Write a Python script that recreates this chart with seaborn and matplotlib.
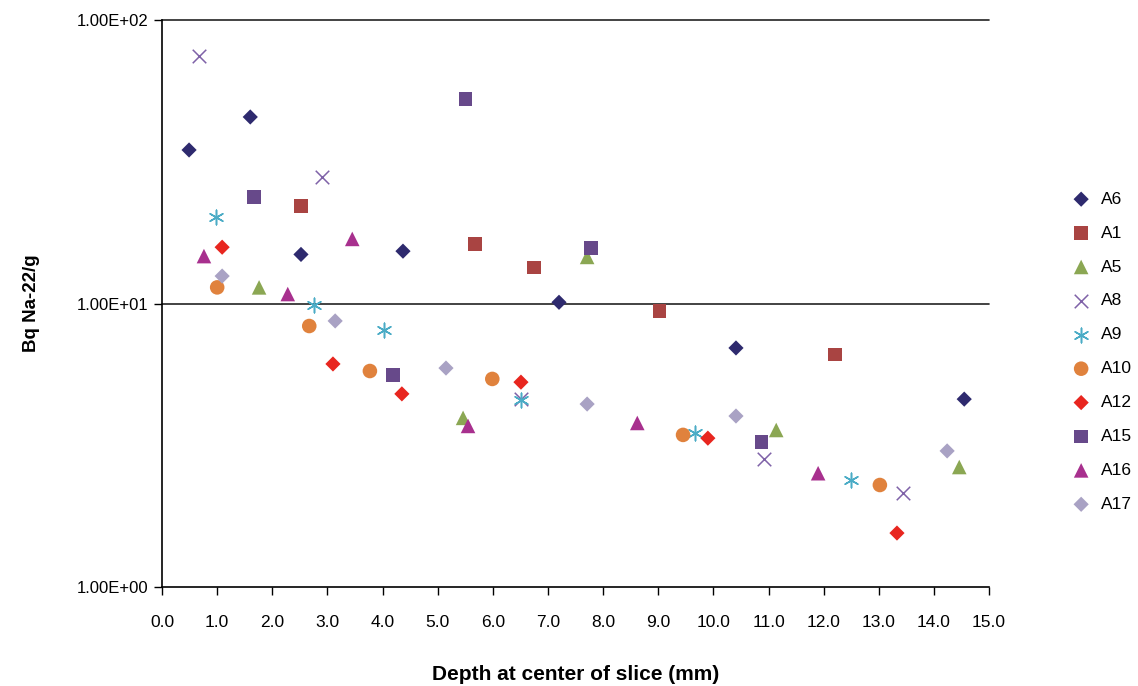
import matplotlib
matplotlib.use("Agg")
import matplotlib.pyplot as plt
from matplotlib import font_manager
import seaborn as sns
import pandas as pd

# Na-22 activity by depth for each sample core
series_names = ["A6", "A1", "A5", "A8", "A9", "A10", "A12", "A15", "A16", "A17"]

a6_depth = [0.49, 1.60, 2.52, 4.37, 7.20, 10.41, 14.55]
a6_bq = [34.8, 45.5, 14.9, 15.3, 10.1, 6.97, 4.6]

a1_depth = [2.52, 5.68, 6.75, 9.02, 12.21]
a1_bq = [22.1, 16.2, 13.4, 9.4, 6.6]

a5_depth = [1.76, 5.46, 7.71, 11.14, 14.46]
a5_bq = [11.4, 3.95, 14.6, 3.58, 2.65]

a8_depth = [0.67, 2.90, 6.51, 10.92, 13.44]
a8_bq = [74.6, 27.9, 4.6, 2.83, 2.15]

a9_depth = [0.98, 2.76, 4.03, 6.51, 9.67, 12.50]
a9_bq = [20.2, 9.9, 8.07, 4.57, 3.49, 2.39]

a10_depth = [1.00, 2.67, 3.77, 5.99, 9.45, 13.02]
a10_bq = [11.4, 8.33, 5.78, 5.42, 3.44, 2.29]

a12_depth = [1.09, 3.10, 4.35, 6.51, 9.90, 13.33]
a12_bq = [15.8, 6.12, 4.8, 5.28, 3.35, 1.55]

a15_depth = [1.67, 4.19, 5.50, 7.78, 10.87]
a15_bq = [23.8, 5.6, 52.6, 15.7, 3.25]

a16_depth = [0.76, 2.28, 3.45, 5.55, 8.62, 11.90]
a16_bq = [14.7, 10.8, 16.9, 3.70, 3.79, 2.52]

a17_depth = [1.09, 3.14, 5.15, 7.71, 10.41, 14.24]
a17_bq = [12.5, 8.68, 5.92, 4.42, 4.01, 3.02]

x_ticks = [float(v) for v in range(0, 16)]
y_ticks = [1.0, 10.0, 100.0]
y_tick_labels = ["1.00E+00", "1.00E+01", "1.00E+02"]

depths = [a6_depth, a1_depth, a5_depth, a8_depth, a9_depth,
          a10_depth, a12_depth, a15_depth, a16_depth, a17_depth]
values = [a6_bq, a1_bq, a5_bq, a8_bq, a9_bq,
          a10_bq, a12_bq, a15_bq, a16_bq, a17_bq]

colors = {
    "A6": "#2E2A6E", "A1": "#A94442", "A5": "#8BA753", "A8": "#7F62A8",
    "A9": "#4BACC6", "A10": "#E0823D", "A12": "#E8261F", "A15": "#67498A",
    "A16": "#A8308E", "A17": "#A9A2C4",
}
# six-armed asterisk for A9
markers = {
    "A6": "D", "A1": "s", "A5": "^", "A8": "x", "A9": (6, 2, 0),
    "A10": "o", "A12": "D", "A15": "s", "A16": "^", "A17": "D",
}
sizes = {
    "A6": 60, "A1": 95, "A5": 110, "A8": 95, "A9": 110,
    "A10": 110, "A12": 60, "A15": 95, "A16": 110, "A17": 60,
}

sns.set_theme(style="white")
installed = {f.name for f in font_manager.fontManager.ttflist}
base_font = "Liberation Sans" if "Liberation Sans" in installed else "DejaVu Sans"
plt.rcParams["font.family"] = [base_font, "DejaVu Sans"]
plt.rcParams["text.color"] = "black"
plt.rcParams["axes.labelcolor"] = "black"
plt.rcParams["xtick.color"] = "black"
plt.rcParams["ytick.color"] = "black"

frames = []
for name, d, v in zip(series_names, depths, values):
    frames.append(pd.DataFrame({"depth": d, "bq": v, "sample": name}))
df = pd.concat(frames, ignore_index=True)

fig = plt.figure(figsize=(11.38, 6.86), dpi=100)
ax = fig.add_axes([0.1424, 0.1443, 0.7267, 0.8265])

for name in series_names:
    sub = df[df["sample"] == name]
    mk = markers[name]
    line_art = mk == "x" or isinstance(mk, tuple)
    kw = dict(linewidth=1.1) if line_art else dict(edgecolor="none", linewidth=0)
    sns.scatterplot(data=sub, x="depth", y="bq", marker=mk, color=colors[name],
                    s=sizes[name], label=name, ax=ax, zorder=3, **kw)

ax.set_yscale("log")
ax.set_ylim(1, 100)
ax.set_xlim(0, 15)
ax.set_xticks(x_ticks)
ax.set_xticklabels([f"{v:.1f}" for v in x_ticks], fontsize=12.5)
ax.set_yticks(y_ticks)
ax.set_yticklabels(y_tick_labels, fontsize=12)
ax.yaxis.set_minor_locator(matplotlib.ticker.NullLocator())

for yv in [10, 100]:
    ax.axhline(yv, color="#222222", linewidth=1.2, zorder=1, clip_on=False)

for side in ["top", "right"]:
    ax.spines[side].set_visible(False)
for side in ["left", "bottom"]:
    ax.spines[side].set_color("black")
    ax.spines[side].set_linewidth(1.2)

ax.tick_params(axis="x", direction="out", length=6, width=1, color="black",
               labelcolor="black", pad=14, bottom=True)
ax.tick_params(axis="y", direction="out", length=6, width=1, color="black",
               labelcolor="black", pad=4, left=True)

ax.set_xlabel("Depth at center of slice (mm)", fontsize=15, fontweight="bold",
              labelpad=25, color="black")
ax.set_ylabel("Bq Na-22/g", fontsize=13.5, fontweight="bold", labelpad=26,
              color="black")

leg = ax.legend(loc="center left", bbox_to_anchor=(1.082, 0.415), frameon=False,
                fontsize=12.5, handletextpad=0.15, labelspacing=1.08,
                borderaxespad=0)
for t in leg.get_texts():
    t.set_color("black")

fig.savefig("out.png", dpi=100)
